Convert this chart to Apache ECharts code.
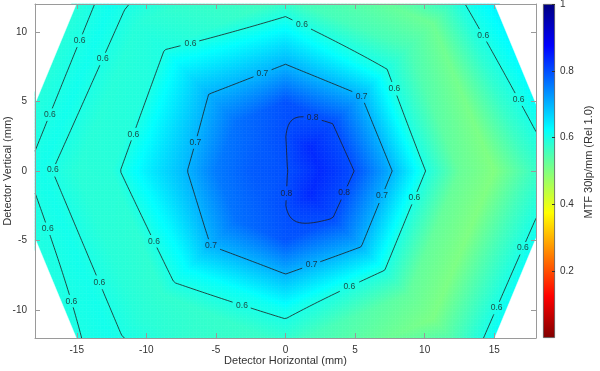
<!DOCTYPE html>
<html>
<head>
<meta charset="utf-8">
<script src="https://cdn.jsdelivr.net/npm/echarts@6/dist/echarts.min.js"></script>
<style>
html,body{margin:0;padding:0;background:#fff;}
#c{width:600px;height:371px;}
</style>
</head>
<body>
<div id="c"></div>
<script>
// ---------------- data ----------------
// field sample grid: polar rays (deg) x rings (mm); MTF 30 lp/mm (relative)
const angles = [0, 45, 90, 135, 180, 225, 270, 315];
const radii  = [0, 2.5, 5, 7.5, 10, 12.5, 15, 17.5, 20];
const ring0    = [0.797, 0.797, 0.797, 0.797, 0.797, 0.797, 0.797, 0.797];
const ring2p5  = [0.835, 0.835, 0.7995, 0.785, 0.785, 0.785, 0.7995, 0.835];
const ring5    = [0.799, 0.797, 0.795, 0.765, 0.755, 0.765, 0.792, 0.797];
const ring7p5  = [0.707, 0.708, 0.705, 0.707, 0.688, 0.703, 0.6965, 0.7085];
const ring10   = [0.602, 0.607, 0.632, 0.650, 0.639, 0.625, 0.610, 0.6025];
const ring12p5 = [0.525, 0.555, 0.559, 0.596, 0.587, 0.578, 0.570, 0.530];
const ring15   = [0.500, 0.520, 0.545, 0.588, 0.586, 0.588, 0.560, 0.505];
const ring17p5 = [0.560, 0.595, 0.550, 0.610, 0.606, 0.606, 0.565, 0.560];
const ring20   = [0.610, 0.640, 0.570, 0.589, 0.592, 0.600, 0.580, 0.620];

const contourLevels = [0.6, 0.7, 0.8];
const xRange = [-18, 18];
const yRange = [-12, 12];
const colorbarRange = [0, 1];
const xTitle = 'Detector Horizontal (mm)';
const yTitle = 'Detector Vertical (mm)';
const cbTitle = 'MTF 30lp/mm (Rel 1.0)';
// reversed jet colormap, evenly spaced from value 0 to 1
const jetRev = ['#800000','#ff0000','#ff8000','#ffff00','#80ff80','#00ffff','#0080ff','#0000ff','#000080'];

// ---------------- interpolation (piecewise linear on the polar sample grid) ----------------
const rings = [ring0, ring2p5, ring5, ring7p5, ring10, ring12p5, ring15, ring17p5, ring20];
const nA = angles.length;
const aStep = angles[1] - angles[0];
const rMax = radii[radii.length - 1];
function mtfAt(x, y, tol) {
  const r = Math.hypot(x, y);
  if (r < 1e-9) return rings[0][0];
  let th = Math.atan2(y, x) * 180 / Math.PI;
  if (th < 0) th += 360;
  let k = Math.floor(th / aStep); if (k >= nA) k = nA - 1;
  const k2 = (k + 1) % nA;
  const a0 = angles[k] * Math.PI / 180, a1 = (angles[k] + aStep) * Math.PI / 180;
  const ux = Math.cos(a0), uy = Math.sin(a0), vx = Math.cos(a1), vy = Math.sin(a1);
  const det = ux * vy - uy * vx;
  const a = (x * vy - y * vx) / det;
  const b = (ux * y - uy * x) / det;
  let s = a + b;
  if (s > rMax + (tol || 1e-9)) return null;
  const t = b / s;
  s = Math.min(s, rMax);
  let j = 0; while (j < radii.length - 2 && s > radii[j + 1]) j++;
  const w = (s - radii[j]) / (radii[j + 1] - radii[j]);
  const lo = rings[j][k] * (1 - t) + rings[j][k2] * t;
  const hi = rings[j + 1][k] * (1 - t) + rings[j + 1][k2] * t;
  return lo * (1 - w) + hi * w;
}

// ---------------- heatmap cells ----------------
const cell = 0.1;
const nx = Math.round((xRange[1] - xRange[0]) / cell);
const ny = Math.round((yRange[1] - yRange[0]) / cell);
const heat = [];
for (let j = 0; j < ny; j++) {
  for (let i = 0; i < nx; i++) {
    const v = mtfAt(xRange[0] + (i + 0.5) * cell, yRange[0] + (j + 0.5) * cell, 0.3);
    if (v !== null) heat.push([i, j, v]);
  }
}
const xCats = Array.from({length: nx}, (_, i) => i);
const yCats = Array.from({length: ny}, (_, j) => j);

// ---------------- contours (marching squares) ----------------
const gs = 0.1;
const gx = [], gy = [];
for (let i = 0; i <= Math.round((xRange[1] - xRange[0]) / gs); i++) gx.push(xRange[0] + i * gs);
for (let j = 0; j <= Math.round((yRange[1] - yRange[0]) / gs); j++) gy.push(yRange[0] + j * gs);
const F = gy.map(y => gx.map(x => mtfAt(x, y)));

function contourLines(L) {
  const segs = [];
  const ip = (xa, ya, va, xb, yb, vb) => { const t = (L - va) / (vb - va); return [xa + t * (xb - xa), ya + t * (yb - ya)]; };
  for (let j = 0; j < gy.length - 1; j++) {
    for (let i = 0; i < gx.length - 1; i++) {
      const v00 = F[j][i], v10 = F[j][i + 1], v11 = F[j + 1][i + 1], v01 = F[j + 1][i];
      if (v00 === null || v10 === null || v11 === null || v01 === null) continue;
      const b00 = v00 >= L, b10 = v10 >= L, b11 = v11 >= L, b01 = v01 >= L;
      const E = [];
      if (b00 !== b10) E[0] = ['h' + i + '_' + j, ip(gx[i], gy[j], v00, gx[i + 1], gy[j], v10)];
      if (b10 !== b11) E[1] = ['v' + (i + 1) + '_' + j, ip(gx[i + 1], gy[j], v10, gx[i + 1], gy[j + 1], v11)];
      if (b01 !== b11) E[2] = ['h' + i + '_' + (j + 1), ip(gx[i], gy[j + 1], v01, gx[i + 1], gy[j + 1], v11)];
      if (b00 !== b01) E[3] = ['v' + i + '_' + j, ip(gx[i], gy[j], v00, gx[i], gy[j + 1], v01)];
      const idx = [0, 1, 2, 3].filter(k => E[k]);
      if (idx.length === 2) segs.push([E[idx[0]], E[idx[1]]]);
      else if (idx.length === 4) {
        const c = (v00 + v10 + v11 + v01) / 4;
        if ((c >= L) === b00) { segs.push([E[0], E[1]]); segs.push([E[2], E[3]]); }
        else { segs.push([E[0], E[3]]); segs.push([E[1], E[2]]); }
      }
    }
  }
  const byEdge = new Map();
  segs.forEach((s, si) => s.forEach(e => { if (!byEdge.has(e[0])) byEdge.set(e[0], []); byEdge.get(e[0]).push(si); }));
  const used = new Array(segs.length).fill(false);
  const lines = [];
  for (let si = 0; si < segs.length; si++) {
    if (used[si]) continue;
    used[si] = true;
    const pts = [segs[si][0][1], segs[si][1][1]];
    const startKey = segs[si][0][0];
    let key = segs[si][1][0];
    while (true) {
      const cand = (byEdge.get(key) || []).find(x => !used[x]);
      if (cand === undefined) break;
      used[cand] = true;
      const s = segs[cand];
      const nxt = s[0][0] === key ? s[1] : s[0];
      pts.push(nxt[1]); key = nxt[0];
    }
    const closed = key === startKey;
    if (!closed) {
      key = startKey;
      while (true) {
        const cand = (byEdge.get(key) || []).find(x => !used[x]);
        if (cand === undefined) break;
        used[cand] = true;
        const s = segs[cand];
        const nxt = s[0][0] === key ? s[1] : s[0];
        pts.unshift(nxt[1]); key = nxt[0];
      }
    }
    lines.push({pts, closed});
  }
  return lines;
}

const labelSpacing = 9;      // mm along the line
const gapHalfW = 0.62, gapHalfH = 0.42; // label gap box (mm)
const lineSeries = [];
const labelData = [];
contourLevels.forEach(L => {
  contourLines(L).forEach(ln => {
    let pts = ln.pts;
    if (pts.length < 3) return;
    let offset = 0.5;
    if (ln.closed) {
      let ring = pts.slice(0, -1);
      let area = 0;
      ring.forEach((p, k) => { const q = ring[(k + 1) % ring.length]; area += p[0] * q[1] - q[0] * p[1]; });
      if (area > 0) ring = ring.reverse();   // walk clockwise
      let m = 0; ring.forEach((p, k) => { if (p[0] > ring[m][0]) m = k; });
      pts = ring.slice(m).concat(ring.slice(0, m));
      pts.push(pts[0]);
      offset = 0.25;
    }
    const cum = [0];
    for (let k = 1; k < pts.length; k++) cum.push(cum[k - 1] + Math.hypot(pts[k][0] - pts[k - 1][0], pts[k][1] - pts[k - 1][1]));
    const len = cum[cum.length - 1];
    const labs = [];
    if (len > 1.5) {
      const n = Math.max(1, Math.ceil(len / labelSpacing));
      for (let i = 0; i < n; i++) {
        const target = (i + offset) * len / n;
        let k = 1; while (k < cum.length - 1 && cum[k] < target) k++;
        const f = (target - cum[k - 1]) / ((cum[k] - cum[k - 1]) || 1);
        const p = [pts[k - 1][0] + f * (pts[k][0] - pts[k - 1][0]), pts[k - 1][1] + f * (pts[k][1] - pts[k - 1][1])];
        labs.push(p);
        labelData.push([p[0], p[1], L]);
      }
    }
    let cur = [];
    pts.forEach(p => {
      const hidden = labs.some(q => Math.abs(p[0] - q[0]) < gapHalfW && Math.abs(p[1] - q[1]) < gapHalfH);
      if (hidden) { if (cur.length > 1) lineSeries.push(cur); cur = []; }
      else cur.push(p);
    });
    if (cur.length > 1) lineSeries.push(cur);
  });
});

// ---------------- chart ----------------
const FONT = '"Liberation Sans", Arial, Helvetica, sans-serif';
const AX = '#9a9a9a';
const TXT = '#333333';
const G = {left: 35, top: 4, width: 501, height: 334, containLabel: false, outerBoundsMode: 'none'};

const chart = echarts.init(document.getElementById('c'), null, {renderer: 'canvas'});
const series = [];
series.push({
  type: 'heatmap', xAxisIndex: 0, yAxisIndex: 0, data: heat,
  progressive: 0, silent: true, emphasis: {disabled: true}, z: 1
});
// white mask outside the sampled field (octagon through the outer ring of rays)
series.push({
  type: 'custom', xAxisIndex: 1, yAxisIndex: 1, data: angles.map((a, i) => [i, 0]), silent: true, z: 2, clip: true,
  renderItem: (params, api) => {
    const k = params.dataIndex;
    const p = (ang, r) => api.coord([r * Math.cos(ang * Math.PI / 180), r * Math.sin(ang * Math.PI / 180)]);
    const a1 = angles[k], a2 = angles[k] + aStep;
    return {type: 'polygon', shape: {points: [p(a1, rMax), p(a2, rMax), p(a2, rMax * 3), p(a1, rMax * 3)]},
      style: {fill: '#ffffff', stroke: '#ffffff', lineWidth: 0.5}};
  }
});
lineSeries.forEach(piece => series.push({
  type: 'line', xAxisIndex: 1, yAxisIndex: 1, data: piece,
  symbol: 'none', showSymbol: false, silent: true, animation: false,
  lineStyle: {color: '#1e1e1e', width: 0.8}, z: 3
}));
series.push({
  type: 'scatter', xAxisIndex: 1, yAxisIndex: 1, data: labelData,
  symbolSize: 1, itemStyle: {color: 'rgba(0,0,0,0)'}, silent: true, z: 4,
  label: {show: true, position: 'inside', formatter: p => Number(p.value[2]).toFixed(1),
    fontSize: 8.5, color: '#1a1a1a', fontFamily: FONT}
});
series.push({
  type: 'bar', xAxisIndex: 3, yAxisIndex: 3, data: [colorbarRange[1]], barWidth: '100%', silent: true, z: 6,
  itemStyle: {
    color: new echarts.graphic.LinearGradient(0, 1, 0, 0, jetRev.map((c, i) => ({offset: i / (jetRev.length - 1), color: c}))),
    borderColor: '#555', borderWidth: 0.8
  }
});

const valAxisCommon = {
  type: 'value', gridIndex: 1, z: 5,
  axisLine: {show: true, onZero: false, lineStyle: {color: AX, width: 1}},
  axisTick: {show: true, inside: true, length: 5, lineStyle: {color: AX}},
  splitLine: {show: false}
};

chart.setOption({
  animation: false,
  backgroundColor: '#ffffff',
  grid: [
    Object.assign({}, G),
    Object.assign({}, G),
    {left: 543, top: 4, width: 12, height: 334, containLabel: false, outerBoundsMode: 'none'}
  ],
  visualMap: {
    show: false, type: 'continuous', seriesIndex: 0, dimension: 2,
    min: colorbarRange[0], max: colorbarRange[1], inRange: {color: jetRev}
  },
  xAxis: [
    {type: 'category', gridIndex: 0, data: xCats, show: false, boundaryGap: true},
    Object.assign({}, valAxisCommon, {
      position: 'bottom', min: xRange[0], max: xRange[1], splitNumber: 7,
      axisLabel: {color: TXT, fontSize: 10, fontFamily: FONT, margin: 7, showMinLabel: false, showMaxLabel: false},
      name: xTitle, nameLocation: 'middle', nameGap: 17, nameMoveOverlap: false,
      nameTextStyle: {color: TXT, fontSize: 11, fontFamily: FONT}
    }),
    Object.assign({}, valAxisCommon, {
      position: 'top', min: xRange[0], max: xRange[1], splitNumber: 7,
      axisLabel: {show: false}
    }),
    {type: 'category', gridIndex: 2, data: ['cb'], show: false}
  ],
  yAxis: [
    {type: 'category', gridIndex: 0, data: yCats, show: false, boundaryGap: true},
    Object.assign({}, valAxisCommon, {
      position: 'left', min: yRange[0], max: yRange[1], splitNumber: 5,
      axisLabel: {color: TXT, fontSize: 10, fontFamily: FONT, margin: 8, showMinLabel: false, showMaxLabel: false},
      name: yTitle, nameLocation: 'middle', nameGap: 22, nameRotate: 90, nameMoveOverlap: false,
      nameTextStyle: {color: TXT, fontSize: 11, fontFamily: FONT}
    }),
    Object.assign({}, valAxisCommon, {
      position: 'right', min: yRange[0], max: yRange[1], splitNumber: 5,
      axisLabel: {show: false}
    }),
    {
      type: 'value', gridIndex: 2, position: 'right', min: colorbarRange[0], max: colorbarRange[1], interval: 0.2,
      axisLine: {show: false},
      axisTick: {show: true, inside: true, length: 3, lineStyle: {color: '#333'}},
      axisLabel: {color: TXT, fontSize: 10, fontFamily: FONT, margin: 5, showMinLabel: false,
        formatter: v => String(+v.toFixed(1))},
      splitLine: {show: false},
      name: cbTitle, nameLocation: 'middle', nameGap: 28, nameRotate: 90, nameMoveOverlap: false,
      nameTextStyle: {color: TXT, fontSize: 11, fontFamily: FONT, padding: [0, 0, 0, 18]},
      z: 7
    }
  ],
  series: series
});
</script>
</body>
</html>
